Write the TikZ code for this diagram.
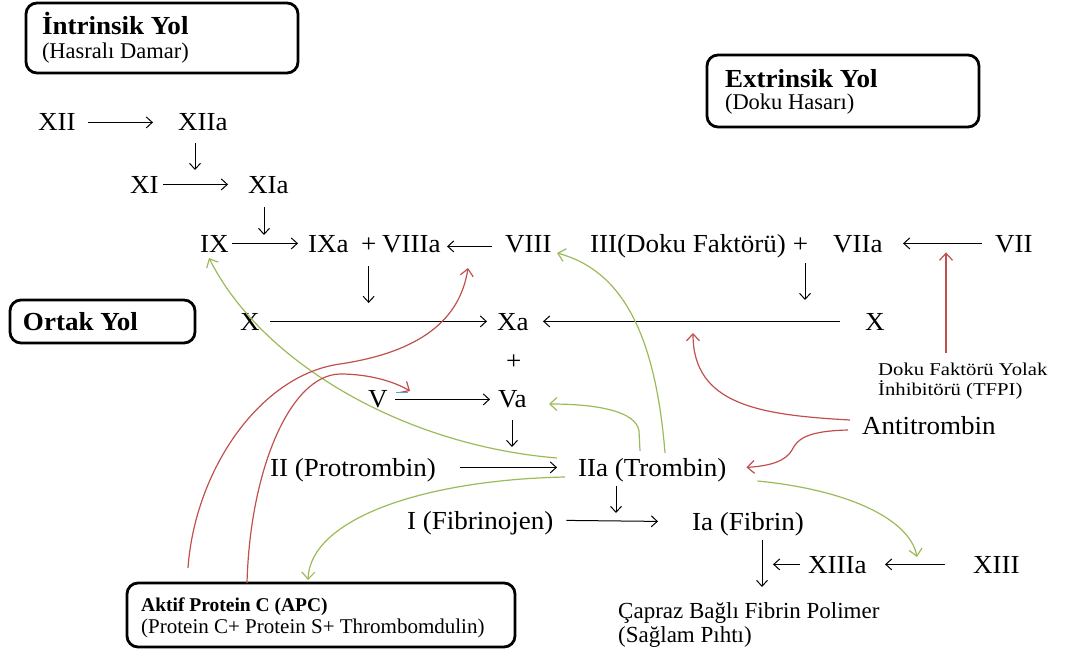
\documentclass[tikz,border=0pt]{standalone}
\usepackage{fontspec}
\setmainfont{Liberation Serif}
\newfontfamily\serfont{Liberation Serif}
\newfontfamily\widefont[FakeStretch=1.04]{Liberation Serif}
\newfontfamily\tfpifont[FakeStretch=1.15]{Liberation Serif}
\usetikzlibrary{arrows.meta,calc}
\definecolor{grn}{HTML}{9BBB59}
\definecolor{rd}{HTML}{C0504D}
\definecolor{blu}{RGB}{90,160,215}
\begin{document}
\begin{tikzpicture}[x=1pt,y=-1pt,
 lbl/.style={anchor=base west, inner sep=0pt, outer sep=0pt, text height=17.2pt, text depth=0pt, font=\widefont\fontsize{26}{30}\selectfont},
 ttl/.style={anchor=base west, inner sep=0pt, outer sep=0pt, font=\widefont\bfseries\fontsize{26}{30}\selectfont},
 subt/.style={anchor=base west, inner sep=0pt, outer sep=0pt, font=\serfont\fontsize{22.5}{26}\selectfont},
 roundbox/.style={draw, line width=2.8pt, rounded corners=11pt, anchor=north west, inner sep=0pt, outer sep=0pt},
 arr/.style={line width=1pt, -{Straight Barb[length=6pt,width=11pt]}},
 garr/.style={grn, line width=1.2pt, -{Straight Barb[length=7pt,width=13pt]}},
 rarr/.style={rd, line width=1.2pt, -{Straight Barb[length=7pt,width=13pt]}},
]
\useasboundingbox (0,0) rectangle (1065,658);

% boxes
\node[roundbox, minimum width=272pt, minimum height=70pt] (intbox) at (26,3) {};
\node[roundbox, minimum width=272pt, minimum height=72pt] (extbox) at (707,55) {};
\node[roundbox, minimum width=185pt, minimum height=43pt] (ortbox) at (10,300) {};
\node[roundbox, minimum width=388pt, minimum height=64pt] (apcbox) at (127,583) {};

\node[ttl] (intt) at (42,35) {İntrinsik Yol};
\node[subt] (ints) at (42,59) {(Hasralı Damar)};
\node[ttl] (extt) at (725,88) {Extrinsik Yol};
\node[subt] (exts) at (725,110) {(Doku Hasarı)};
\node[ttl] (ortt) at (23,330) {Ortak Yol};
\node[anchor=base west, inner sep=0pt, font=\serfont\bfseries\fontsize{19.5}{22}\selectfont] (apct) at (141,611) {Aktif Protein C (APC)};
\node[anchor=base west, inner sep=0pt, font=\serfont\fontsize{21}{24}\selectfont] (apcs) at (141,633) {(Protein C+ Protein S+ Thrombomdulin)};

% factors
\node[lbl] (nxii) at (38,131) {XII};
\node[lbl] (nxiia) at (178,131) {XIIa};
\node[lbl] (nxi) at (130,193) {XI};
\node[lbl] (nxia) at (248,193) {XIa};
\node[lbl] (nix) at (200,252) {IX};
\node[lbl] (nixa) at (308,252) {IXa};
\node[lbl] (nplusa) at (361,252) {+};
\node[lbl] (nviiia) at (382,252) {VIIIa};
\node[lbl] (nviii) at (505,252) {VIII};
\node[lbl] (niii) at (590,252) {III(Doku Faktörü) +};
\node[lbl] (nviia) at (833,252) {VIIa};
\node[lbl] (nvii) at (995,252) {VII};
\node[lbl] (nx) at (240,330) {X};
\node[lbl] (nxa) at (497,330) {Xa};
\node[lbl] (nxr) at (865,330) {X};
\node[lbl] (nplusb) at (506,369) {+};
\node[lbl] (nv) at (368,407) {V};
\node[lbl] (nva) at (498,407) {Va};
\node[lbl] (nii) at (270,476) {II (Protrombin)};
\node[lbl] (niia) at (578,476) {IIa (Trombin)};
\node[lbl] (nanti) at (862,434) {Antitrombin};
\node[lbl] (ni) at (407,529) {I (Fibrinojen)};
\node[lbl] (nia) at (692,530) {Ia (Fibrin)};
\node[lbl] (nxiiia) at (808,573) {XIIIa};
\node[lbl] (nxiii) at (973,573) {XIII};
\node[anchor=base west, inner sep=0pt, font=\serfont\fontsize{23}{26}\selectfont] (ncap) at (618,618) {Çapraz Bağlı Fibrin Polimer};
\node[anchor=base west, inner sep=0pt, font=\serfont\fontsize{23}{26}\selectfont] (nsag) at (618,642) {(Sağlam Pıhtı)};
\node[anchor=base west, inner sep=0pt, font=\tfpifont\fontsize{18}{20}\selectfont] (ntfpia) at (878,375) {Doku Faktörü Yolak};
\node[anchor=base west, inner sep=0pt, font=\tfpifont\fontsize{18}{20}\selectfont] (ntfpib) at (878,395) {İnhibitörü (TFPI)};

% black arrows
\draw[arr] ($(nxii.east)+(12.5,0)$) -- ($(nxiia.west)+(-25,0)$);
\draw[arr] ($(nxiia.south west)+(17,12)$) -- ($(nxiia.south west)+(17,39)$);
\draw[arr] ($(nxi.east)+(4.5,0)$) -- ($(nxia.west)+(-20,0)$);
\draw[arr] ($(nxia.south west)+(16,14)$) -- ($(nxia.south west)+(16,42)$);
\draw[arr] ($(nix.east)+(3.5,0)$) -- ($(nixa.west)+(-10,0)$);
\draw[arr] ($(nviii.west)+(-13,3)$) -- ($(nviiia.east)+(6.5,3)$);
\draw[arr] ($(nplusa.south)+(0,14)$) -- ($(nplusa.south)+(0,51)$);
\draw[arr] ($(nx.east)+(10.5,0)$) -- ($(nxa.west)+(-10,0)$);
\draw[arr] ($(nxr.west)+(-25,0)$) -- ($(nxa.east)+(14.5,0)$);
\draw[arr] ($(nv.east)+(7.5,1)$) -- ($(nva.west)+(-8,1)$);
\draw[arr] ($(nvii.west)+(-13,0)$) -- ($(nviia.east)+(20.5,0)$);
\draw[arr] ($(niii.south west)+(215,11)$) -- ($(niii.south west)+(215,48)$);
\draw[arr] ($(nva.south west)+(14,13)$) -- ($(nva.south west)+(14,40)$);
\draw[arr] ($(nii.east)+(24,0)$) -- ($(niia.west)+(-21,0)$);
\draw[arr] ($(niia.south west)+(38,10)$) -- ($(niia.south west)+(38,37)$);
\draw[arr] ($(ni.east)+(13,0)$) -- ($(nia.west)+(-34,0)$);
\draw[arr] ($(nia.south west)+(70,10)$) -- ($(nia.south west)+(70,57)$);
\draw[arr] ($(nxiiia.west)+(-8,0)$) -- ($(nxiiia.west)+(-35,0)$);
\draw[arr] ($(nxiii.west)+(-28,0)$) -- ($(nxiiia.east)+(18.5,0)$);

% green (thrombin activation)
\draw[garr] ($(niia.west)+(-21,-9.4)$) .. controls (400,445) and (260,360) .. ($(nix.south west)+(9,6)$);
\draw[garr] ($(niia.west)+(-13,9.6)$) .. controls (420,480) and (310,520) .. ($(apcbox.north west)+(181,-3)$);
\draw[garr] ($(niia.north west)+(62,-8)$) -- ($(niia.north west)+(61,-28)$) .. controls (636,412) and (600,404) .. ($(nva.east)+(22.5,5.6)$);
\draw[garr] ($(niia.north west)+(87,-6)$) .. controls (655,330) and (620,270) .. ($(nviii.east)+(5.5,9.6)$);
\draw[garr] ($(niia.east)+(31,13.6)$) .. controls (850,490) and (910,520) .. ($(nxiii.west)+(-56,-7.4)$);

% red (inhibition)
\draw[rarr] ($(apcbox.north west)+(61,-15)$) .. controls (195,470) and (260,375) .. (340,364) .. controls (420,352) and (460,320) .. ($(nviiia.south west)+(86,16)$);
\draw[rarr] ($(apcbox.north west)+(120,0)$) .. controls (250,470) and (290,375) .. (340,374) .. controls (370,374) and (395,382) .. ($(nv.east)+(22.5,-7.4)$);
\draw[rarr] ($(nanti.west)+(-12,-5.4)$) .. controls (760,415) and (693,405) .. ($(nxr.west)+(-172,11.6)$);
\draw[rarr] ($(nanti.west)+(-14,4.6)$) .. controls (805,431) and (797,440) .. (792,450) .. controls (786,461) and (770,466) .. ($(niia.east)+(20,0)$);
\draw[rarr] ($(ntfpia.base west)+(68,-22)$) -- ($(nvii.west)+(-49,9)$);

\draw[blu, line width=1.5pt] ($(nv.east)+(8,-6)$) -- ++(12,0);
\end{tikzpicture}
\end{document}
